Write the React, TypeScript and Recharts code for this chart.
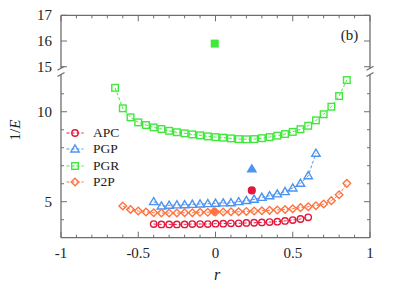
import React from 'react'
import { LineChart, Line, XAxis, YAxis, Legend } from 'recharts'

const FRAME = '#6e6e6e'
const FONT = 'Liberation Serif, DejaVu Serif, Times New Roman, serif'
const APC_C = '#e3173d'
const PGP_C = '#4d94f2'
const PGR_C = '#3fe83a'
const P2P_C = '#ff7340'

// axis ticks
const xTicks = [-1, -0.9, -0.8, -0.7, -0.6, -0.5, -0.4, -0.3, -0.2, -0.1, 0, 0.1, 0.2, 0.3, 0.4, 0.5, 0.6, 0.7, 0.8, 0.9, 1]
const yTicksLow = [4, 5, 6, 7, 8, 9, 10, 11]
const yLabelsLow = [5, 10]
const yTicksHigh = [15, 16, 17]

// series
const rPGR = [-0.65, -0.6, -0.55, -0.5, -0.45, -0.4, -0.35, -0.3, -0.25, -0.2, -0.15, -0.1, -0.05, 0, 0.05, 0.1, 0.15, 0.2, 0.25, 0.3, 0.35, 0.4, 0.45, 0.5, 0.55, 0.6, 0.65, 0.7, 0.75, 0.8, 0.85]
const PGR = [11.33, 10.19, 9.69, 9.41, 9.26, 9.13, 9.04, 8.94, 8.86, 8.8, 8.74, 8.69, 8.63, 8.59, 8.56, 8.52, 8.48, 8.47, 8.48, 8.53, 8.59, 8.67, 8.76, 8.88, 9.03, 9.22, 9.52, 9.86, 10.28, 10.87, 11.76]

const rPGP = [-0.4, -0.35, -0.3, -0.25, -0.2, -0.15, -0.1, -0.05, 0, 0.05, 0.1, 0.15, 0.2, 0.25, 0.3, 0.35, 0.4, 0.45, 0.5, 0.55, 0.6, 0.65]
const PGP = [5.0, 4.76, 4.8, 4.82, 4.83, 4.85, 4.87, 4.89, 4.91, 4.93, 4.94, 5.0, 5.06, 5.13, 5.24, 5.33, 5.43, 5.56, 5.76, 6.02, 6.44, 7.69]

const rAPC = [-0.4, -0.35, -0.3, -0.25, -0.2, -0.15, -0.1, -0.05, 0, 0.05, 0.1, 0.15, 0.2, 0.25, 0.3, 0.35, 0.4, 0.45, 0.5, 0.55, 0.6]
const APC = [3.76, 3.74, 3.74, 3.74, 3.74, 3.76, 3.76, 3.76, 3.78, 3.78, 3.8, 3.8, 3.82, 3.83, 3.85, 3.87, 3.89, 3.93, 3.98, 4.04, 4.13]

const rP2P = [-0.6, -0.55, -0.5, -0.45, -0.4, -0.35, -0.3, -0.25, -0.2, -0.15, -0.1, -0.05, 0, 0.05, 0.1, 0.15, 0.2, 0.25, 0.3, 0.35, 0.4, 0.45, 0.5, 0.55, 0.6, 0.65, 0.7, 0.75, 0.8, 0.85]
const P2P = [4.76, 4.57, 4.48, 4.43, 4.39, 4.37, 4.37, 4.37, 4.39, 4.39, 4.41, 4.41, 4.43, 4.43, 4.44, 4.44, 4.46, 4.48, 4.5, 4.52, 4.54, 4.57, 4.61, 4.67, 4.72, 4.78, 4.87, 5.06, 5.39, 6.02]

// single filled points
const pgrOne = [{ r: -0.005, v: 15.9 }]
const pgpOne = [{ r: 0.235, v: 6.82 }]
const apcOne = [{ r: 0.235, v: 5.63 }]
const p2pOne = [{ r: -0.01, v: 4.46 }]

const toPts = (rs: number[], vs: number[]) => rs.map((r, i) => ({ r, v: vs[i] }))

const legendItems = [
  { name: 'APC', kind: 'circle', color: APC_C },
  { name: 'PGP', kind: 'triangle', color: PGP_C },
  { name: 'PGR', kind: 'square', color: PGR_C },
  { name: 'P2P', kind: 'diamond', color: P2P_C },
]

function Mark(props: any) {
  const { cx, cy, kind, color, filled } = props
  if (cx == null || cy == null) return null
  const fill = filled ? color : 'none'
  const sw = 1.4
  if (kind === 'circle') {
    return <circle cx={cx} cy={cy} r={filled ? 3.4 : 3.2} fill={fill} stroke={color} strokeWidth={sw} />
  }
  if (kind === 'triangle') {
    const s = 4.2
    return <polygon points={`${cx},${cy - s} ${cx - s},${cy + s * 0.7} ${cx + s},${cy + s * 0.7}`} fill={fill} stroke={color} strokeWidth={sw} strokeLinejoin="miter" />
  }
  if (kind === 'square') {
    const s = 3.3
    return <rect x={cx - s} y={cy - s} width={2 * s} height={2 * s} fill={fill} stroke={color} strokeWidth={sw} />
  }
  const s = 3.8
  return <polygon points={`${cx},${cy - s} ${cx + s},${cy} ${cx},${cy + s} ${cx - s},${cy}`} fill={fill} stroke={color} strokeWidth={sw} />
}

function XTick(props: any) {
  const { x, y, payload, side } = props
  const v = payload.value
  const major = Math.abs(v * 2 - Math.round(v * 2)) < 1e-6
  const len = major ? 6 : 3
  const dir = side === 'top' ? 1 : -1
  return (
    <g>
      <line x1={x} x2={x} y1={y} y2={y + dir * len} stroke={FRAME} strokeWidth={1} />
      {side === 'bottom' && major && (
        <text x={x} y={y + 20} textAnchor="middle" fontSize={15} fontFamily={FONT} fill="#222">
          {String(v)}
        </text>
      )}
    </g>
  )
}

function YTick(props: any) {
  const { x, y, payload, side, labels } = props
  const v = payload.value
  const major = labels.includes(v)
  const len = major ? 6 : 3
  const dir = side === 'left' ? 1 : -1
  return (
    <g>
      <line x1={x} x2={x + dir * len} y1={y} y2={y} stroke={FRAME} strokeWidth={1} />
      {side === 'left' && major && (
        <text x={x - 9} y={y + 5} textAnchor="end" fontSize={15} fontFamily={FONT} fill="#222">
          {v}
        </text>
      )}
    </g>
  )
}

function LegendBox() {
  return (
    <div style={{ fontFamily: FONT, fontSize: 13.5, color: '#222' }}>
      {legendItems.map((it) => (
        <div key={it.name} style={{ display: 'flex', alignItems: 'center', height: 16.6 }}>
          <svg width={24} height={12} style={{ overflow: 'visible' }}>
            <line x1={2.5} x2={19.5} y1={6} y2={6} stroke={it.color} strokeWidth={1} strokeDasharray="3 2" />
            <Mark cx={11} cy={6} kind={it.kind} color={it.color} />
          </svg>
          <span style={{ marginLeft: 5, lineHeight: '16px' }}>{it.name}</span>
        </div>
      ))}
    </div>
  )
}

const axisLine = { stroke: FRAME, strokeWidth: 1.3 }

function series(pts: { r: number; v: number }[], kind: string, color: string, name: string) {
  return (
    <Line
      key={name}
      name={name}
      data={pts}
      dataKey="v"
      type="linear"
      stroke={color}
      strokeWidth={1}
      strokeDasharray="3 2"
      dot={<Mark kind={kind} color={color} />}
      activeDot={false}
      isAnimationActive={false}
    />
  )
}

function single(pts: { r: number; v: number }[], kind: string, color: string, name: string) {
  return (
    <Line
      key={name}
      name={name}
      data={pts}
      dataKey="v"
      stroke="none"
      dot={<Mark kind={kind} color={color} filled />}
      activeDot={false}
      legendType="none"
      isAnimationActive={false}
    />
  )
}

function BreakMark({ x, y }: { x: number; y: number }) {
  return <line x1={x - 3.5} y1={y + 2} x2={x + 3.5} y2={y - 2} stroke={FRAME} strokeWidth={1.2} />
}

export default function App() {
  return (
    <div style={{ position: 'fixed', left: 0, top: 0, width: 407, height: 285, background: '#fff' }}>
      {/* upper panel */}
      <div style={{ position: 'absolute', left: 0, top: 0 }}>
        <LineChart width={407} height={285} margin={{ top: 5.3, left: 21, right: 27, bottom: 216.7 }}>
          <XAxis
            dataKey="r"
            type="number"
            orientation="top"
            domain={[-1, 1]}
            ticks={xTicks}
            interval={0}
            allowDataOverflow
            height={10}
            tickSize={0}
            tickMargin={0}
            tickLine={false}
            axisLine={axisLine}
            tick={<XTick side="top" />}
          />
          <YAxis
            yAxisId={0}
            type="number"
            domain={[14.94, 17]}
            ticks={yTicksHigh}
            interval={0}
            allowDataOverflow
            width={40}
            tickSize={0}
            tickMargin={0}
            tickLine={false}
            axisLine={axisLine}
            tick={<YTick side="left" labels={yTicksHigh} />}
          />
          <YAxis
            yAxisId="right"
            orientation="right"
            type="number"
            domain={[14.94, 17]}
            ticks={yTicksHigh}
            interval={0}
            allowDataOverflow
            width={10}
            tickSize={0}
            tickMargin={0}
            tickLine={false}
            axisLine={axisLine}
            tick={<YTick side="right" labels={yTicksHigh} />}
          />
          {single(pgrOne, 'square', PGR_C, 'PGR*')}
        </LineChart>
      </div>

      {/* lower panel */}
      <div style={{ position: 'absolute', left: 0, top: 0 }}>
        <LineChart width={407} height={285} margin={{ top: 74.5, left: 21, right: 27, bottom: 17.3 }}>
          <XAxis
            dataKey="r"
            type="number"
            domain={[-1, 1]}
            ticks={xTicks}
            interval={0}
            allowDataOverflow
            height={30}
            tickSize={0}
            tickMargin={0}
            tickLine={false}
            axisLine={axisLine}
            tick={<XTick side="bottom" />}
          />
          <YAxis
            yAxisId={0}
            type="number"
            domain={[3, 12.07]}
            ticks={yTicksLow}
            interval={0}
            allowDataOverflow
            width={40}
            tickSize={0}
            tickMargin={0}
            tickLine={false}
            axisLine={axisLine}
            tick={<YTick side="left" labels={yLabelsLow} />}
          />
          <YAxis
            yAxisId="right"
            orientation="right"
            type="number"
            domain={[3, 12.07]}
            ticks={yTicksLow}
            interval={0}
            allowDataOverflow
            width={10}
            tickSize={0}
            tickMargin={0}
            tickLine={false}
            axisLine={axisLine}
            tick={<YTick side="right" labels={yLabelsLow} />}
          />
          {series(toPts(rPGR, PGR), 'square', PGR_C, 'PGR')}
          {series(toPts(rPGP, PGP), 'triangle', PGP_C, 'PGP')}
          {series(toPts(rP2P, P2P), 'diamond', P2P_C, 'P2P')}
          {series(toPts(rAPC, APC), 'circle', APC_C, 'APC')}
          {single(pgpOne, 'triangle', PGP_C, 'PGP*')}
          {single(apcOne, 'circle', APC_C, 'APC*')}
          {single(p2pOne, 'diamond', P2P_C, 'P2P*')}
          <Legend
            layout="horizontal"
            verticalAlign="middle"
            content={<LegendBox />}
            wrapperStyle={{ left: 64, top: 124.4, width: 80, height: 70 }}
          />
        </LineChart>
      </div>

      {/* labels and axis break marks */}
      <svg width={407} height={285} style={{ position: 'absolute', left: 0, top: 0, pointerEvents: 'none' }}>
        <BreakMark x={61} y={68.3} />
        <BreakMark x={61} y={74.5} />
        <BreakMark x={370} y={68.3} />
        <BreakMark x={370} y={74.5} />
        <text x={349.5} y={40} textAnchor="middle" fontSize={15} fontFamily={FONT} fill="#222">
          (b)
        </text>
        <text x={217} y={279.5} textAnchor="middle" fontSize={16} fontFamily={FONT} fontStyle="italic" fill="#222">
          r
        </text>
        <text transform="translate(20,130) rotate(-90)" textAnchor="middle" fontSize={15} fontFamily={FONT} fill="#222">
          1/<tspan fontStyle="italic">E</tspan>
        </text>
      </svg>
    </div>
  )
}
